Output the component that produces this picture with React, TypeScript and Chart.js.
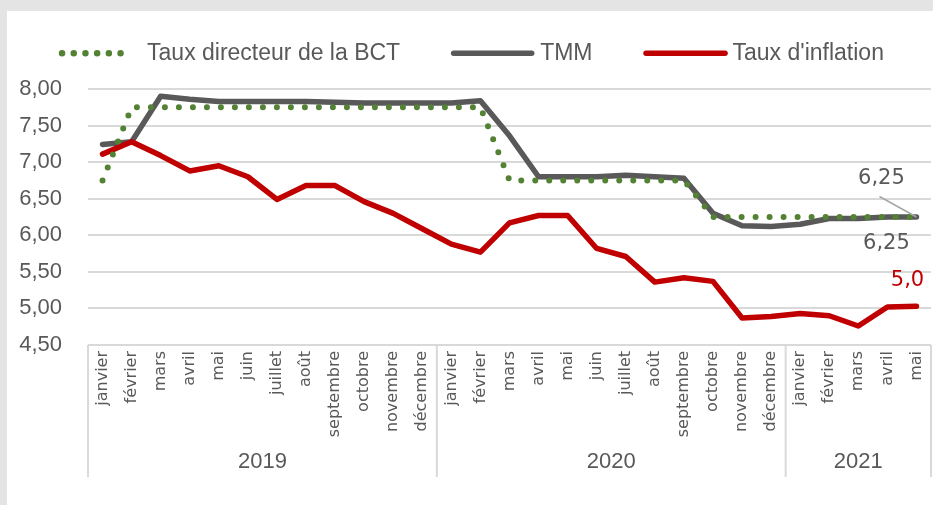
import React, { useEffect, useRef } from "react";
import { Chart, registerables } from "chart.js";

Chart.register(...registerables);

const monthNames = [
  "janvier", "février", "mars", "avril", "mai", "juin",
  "juillet", "août", "septembre", "octobre", "novembre", "décembre",
];
const years = ["2019", "2020", "2021"];
const monthsPerYear = [12, 12, 5];
const categories = monthsPerYear.flatMap((n) => monthNames.slice(0, n));

const seriesNames = ["Taux directeur de la BCT", "TMM", "Taux d'inflation"];

const tauxDirecteur = [
  6.75, 7.75, 7.75, 7.75, 7.75, 7.75, 7.75, 7.75, 7.75, 7.75, 7.75, 7.75,
  7.75, 7.75, 6.75, 6.75, 6.75, 6.75, 6.75, 6.75, 6.75, 6.25, 6.25, 6.25,
  6.25, 6.25, 6.25, 6.25, 6.25,
];
const tmm = [
  7.24, 7.28, 7.9, 7.86, 7.83, 7.83, 7.83, 7.83, 7.82, 7.81, 7.81, 7.81,
  7.81, 7.84, 7.36, 6.8, 6.8, 6.8, 6.82, 6.8, 6.78, 6.3, 6.13, 6.12,
  6.15, 6.23, 6.23, 6.25, 6.25,
];
const inflation = [
  7.11, 7.28, 7.09, 6.88, 6.95, 6.8, 6.49, 6.68, 6.68, 6.46, 6.3, 6.09,
  5.88, 5.77, 6.17, 6.27, 6.27, 5.82, 5.71, 5.36, 5.42, 5.37, 4.87, 4.89,
  4.93, 4.9, 4.76, 5.02, 5.03,
];

const yMin = 4.5;
const yMax = 8;
const yStep = 0.5;

const GREEN = "#548235";
const GRAY = "#595959";
const RED = "#C00000";
const GRID = "#d9d9d9";
const TEXT = "#595959";

const fmt = (v: number, d: number) => v.toFixed(d).replace(".", ",");

const legendPlugin = {
  id: "customLegend",
  afterDraw(chart: any) {
    const ctx = chart.ctx as CanvasRenderingContext2D;
    ctx.save();
    ctx.font = "23px 'Liberation Sans', Arial, sans-serif";
    const sampleW = [70, 83, 84];
    const sampleGap = [15, 6, 5];
    const between = 51;
    const widths = seriesNames.map((t) => ctx.measureText(t).width);
    let total = 0;
    for (let i = 0; i < 3; i++) total += sampleW[i] + sampleGap[i] + widths[i] + (i < 2 ? between : 0);
    let x = (chart.width - total) / 2 + 3;
    const lineY = 42.3;
    const baseY = 48.5;
    const ds = chart.data.datasets;
    for (let i = 0; i < 3; i++) {
      const d = ds[i];
      ctx.beginPath();
      ctx.strokeStyle = d.borderColor;
      ctx.lineCap = "round";
      if (i === 0) {
        ctx.lineWidth = 6.5;
        ctx.setLineDash([0, 11.7]);
        ctx.moveTo(x, lineY);
        ctx.lineTo(x + sampleW[i], lineY);
      } else {
        ctx.lineWidth = d.borderWidth;
        ctx.setLineDash([]);
        ctx.moveTo(x + 2.5, lineY);
        ctx.lineTo(x + sampleW[i] - 2.5, lineY);
      }
      ctx.stroke();
      x += sampleW[i] + sampleGap[i];
      ctx.setLineDash([]);
      ctx.fillStyle = TEXT;
      ctx.textAlign = "left";
      ctx.textBaseline = "alphabetic";
      ctx.fillText(seriesNames[i], x, baseY);
      x += widths[i] + between;
    }
    ctx.restore();
  },
};

const groupPlugin = {
  id: "yearGroups",
  afterDraw(chart: any) {
    const ctx = chart.ctx as CanvasRenderingContext2D;
    const xs = chart.scales.x;
    const area = chart.chartArea;
    const step = xs.getPixelForValue(1) - xs.getPixelForValue(0);
    ctx.save();
    ctx.strokeStyle = GRID;
    ctx.lineWidth = 2;
    const bottom = 466;
    let start = 0;
    const bounds: number[] = [xs.getPixelForValue(0) - step / 2];
    monthsPerYear.forEach((n) => {
      start += n;
      bounds.push(xs.getPixelForValue(start - 1) + step / 2);
    });
    bounds.forEach((bx) => {
      ctx.beginPath();
      ctx.moveTo(bx, area.bottom);
      ctx.lineTo(bx, bottom);
      ctx.stroke();
    });
    ctx.fillStyle = TEXT;
    ctx.font = "22px 'Liberation Sans', Arial, sans-serif";
    ctx.textAlign = "center";
    ctx.textBaseline = "middle";
    years.forEach((y, i) => {
      ctx.fillText(y, (bounds[i] + bounds[i + 1]) / 2, 451);
    });
    ctx.restore();
  },
};

const dataLabelPlugin = {
  id: "endLabels",
  afterDatasetsDraw(chart: any) {
    const ctx = chart.ctx as CanvasRenderingContext2D;
    ctx.save();
    ctx.font = "21px 'DejaVu Sans', sans-serif";
    ctx.textAlign = "center";
    ctx.textBaseline = "middle";
    const last = (i: number) => {
      const m = chart.getDatasetMeta(i);
      const el = m.data[m.data.length - 1];
      const arr = chart.data.datasets[i].data;
      return { x: el.x, y: el.y, v: arr[arr.length - 1] as number };
    };
    const t = last(1);
    ctx.strokeStyle = "#a6a6a6";
    ctx.lineWidth = 1.5;
    ctx.beginPath();
    ctx.moveTo(t.x - 37, t.y - 20.5);
    ctx.lineTo(t.x, t.y);
    ctx.stroke();
    ctx.fillStyle = GRAY;
    ctx.fillText(fmt(t.v, 2), t.x - 35, t.y - 38.5);
    const b = last(0);
    ctx.fillStyle = GRAY;
    ctx.fillText(fmt(b.v, 2), b.x - 30, b.y + 26.5);
    const r = last(2);
    ctx.fillStyle = RED;
    ctx.fillText(fmt(r.v, 1), r.x - 9, r.y - 25.5);
    ctx.restore();
  },
};

export default function App() {
  const ref = useRef<HTMLCanvasElement | null>(null);
  useEffect(() => {
    if (!ref.current) return;
    const chart = new Chart(ref.current, {
      type: "line",
      data: {
        labels: categories,
        datasets: [
          {
            label: seriesNames[0],
            data: tauxDirecteur,
            borderColor: GREEN,
            backgroundColor: GREEN,
            borderWidth: 6,
            borderDash: [0, 14],
            borderCapStyle: "round",
            borderJoinStyle: "round",
            pointRadius: 0,
            tension: 0,
            order: 0,
          },
          {
            label: seriesNames[1],
            data: tmm,
            borderColor: GRAY,
            backgroundColor: GRAY,
            borderWidth: 5.5,
            borderCapStyle: "round",
            borderJoinStyle: "round",
            pointRadius: 0,
            tension: 0,
            order: 2,
          },
          {
            label: seriesNames[2],
            data: inflation,
            borderColor: RED,
            backgroundColor: RED,
            borderWidth: 5.5,
            borderCapStyle: "round",
            borderJoinStyle: "round",
            pointRadius: 0,
            tension: 0,
            order: 1,
          },
        ],
      },
      options: {
        responsive: false,
        animation: false,
        layout: { padding: { top: 78, left: 0, right: 2, bottom: 0 } },
        plugins: {
          legend: { display: false },
          tooltip: { enabled: false },
        },
        scales: {
          x: {
            type: "category",
            offset: true,
            grid: { display: false, drawTicks: false },
            border: { display: false },
            ticks: {
              autoSkip: false,
              minRotation: 90,
              maxRotation: 90,
              padding: 6,
              color: TEXT,
              font: { family: "'DejaVu Sans', sans-serif", size: 16 },
            },
            afterFit: (s: any) => {
              s.height = 160;
              s.paddingLeft = 0;
              s.paddingRight = 0;
            },
          },
          y: {
            min: yMin,
            max: yMax,
            ticks: {
              stepSize: yStep,
              padding: 26,
              color: TEXT,
              font: { family: "'Liberation Sans', Arial, sans-serif", size: 22 },
              callback: (v: any) => fmt(Number(v), 2),
            },
            grid: { color: GRID, lineWidth: 2, drawTicks: false },
            border: { display: false },
            afterFit: (s: any) => {
              s.width = 81;
            },
          },
        },
      },
      plugins: [legendPlugin, groupPlugin, dataLabelPlugin],
    } as any);
    return () => chart.destroy();
  }, []);

  return (
    <div
      style={{
        position: "fixed",
        left: 0,
        top: 0,
        width: 933,
        height: 505,
        background: "#e4e4e4",
        overflow: "hidden",
      }}
    >
      <canvas
        ref={ref}
        width={926}
        height={494}
        style={{ position: "absolute", left: 7, top: 11, background: "#ffffff", display: "block" }}
      />
    </div>
  );
}
